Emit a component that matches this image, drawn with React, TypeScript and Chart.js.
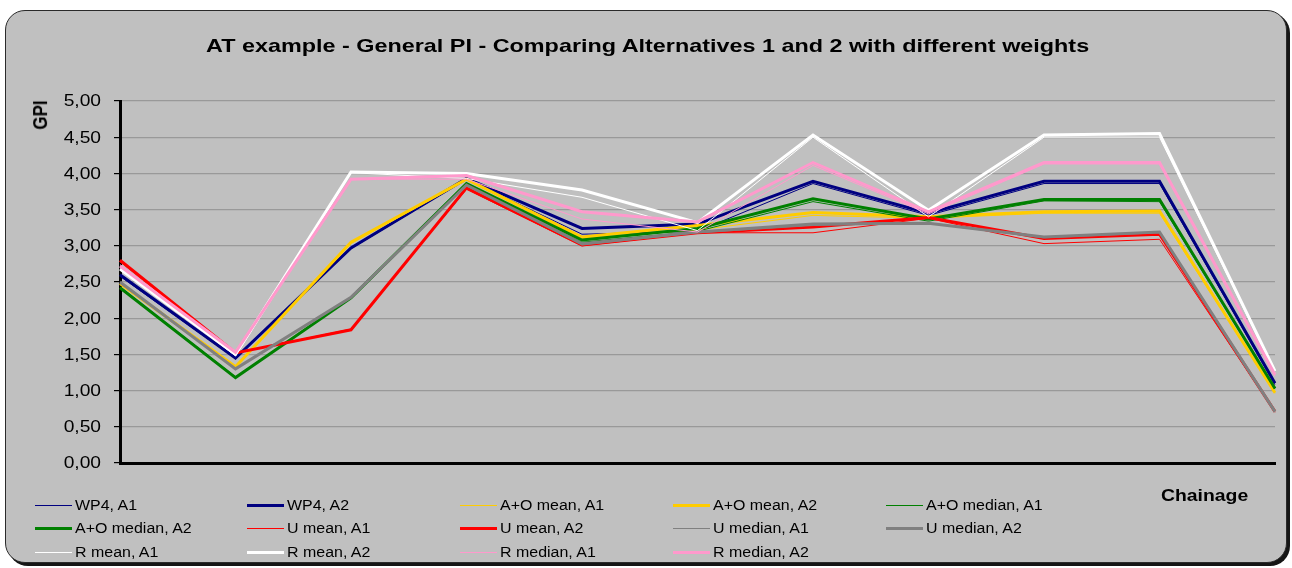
import React, { useEffect, useRef } from 'react';
import { Chart, registerables } from 'chart.js';

Chart.register(...registerables);

// ---- data ----
const chainage = ['1', '2', '3', '4', '5', '6', '7', '8', '9', '10', '11'];

const seriesNames = [
  'WP4, A1', 'WP4, A2',
  'A+O mean, A1', 'A+O mean, A2',
  'A+O median, A1', 'A+O median, A2',
  'U mean, A1', 'U mean, A2',
  'U median, A1', 'U median, A2',
  'R mean, A1', 'R mean, A2',
  'R median, A1', 'R median, A2',
];

const wp4A1 = [2.58, 1.44, 2.96, 3.92, 3.16, 3.2, 3.86, 3.42, 3.86, 3.86, 1.08];
const wp4A2 = [2.6, 1.45, 2.97, 3.93, 3.24, 3.3, 3.89, 3.45, 3.89, 3.89, 1.1];
const aoMeanA1 = [2.5, 1.34, 3.03, 3.91, 3.1, 3.22, 3.42, 3.38, 3.45, 3.45, 0.96];
const aoMeanA2 = [2.48, 1.33, 3.05, 3.92, 3.12, 3.28, 3.46, 3.4, 3.47, 3.48, 0.97];
const aoMedianA1 = [2.43, 1.19, 2.28, 3.85, 3.05, 3.2, 3.61, 3.34, 3.62, 3.61, 1.02];
const aoMedianA2 = [2.42, 1.18, 2.28, 3.86, 3.08, 3.24, 3.65, 3.37, 3.64, 3.64, 1.03];
const uMeanA1 = [2.78, 1.52, 1.85, 3.78, 3.0, 3.18, 3.18, 3.38, 3.03, 3.09, 0.7];
const uMeanA2 = [2.8, 1.52, 1.84, 3.8, 3.01, 3.18, 3.26, 3.39, 3.1, 3.16, 0.71];
const uMedianA1 = [2.48, 1.3, 2.29, 3.83, 3.01, 3.18, 3.28, 3.31, 3.11, 3.18, 0.7];
const uMedianA2 = [2.5, 1.3, 2.29, 3.84, 3.03, 3.19, 3.3, 3.31, 3.12, 3.19, 0.71];
const rMeanA1 = [2.7, 1.48, 4.01, 3.93, 3.67, 3.21, 4.5, 3.4, 4.5, 4.5, 1.25];
const rMeanA2 = [2.68, 1.5, 4.02, 4.0, 3.77, 3.32, 4.53, 3.49, 4.53, 4.55, 1.27];
const rMedianA1 = [2.74, 1.52, 3.92, 3.92, 3.37, 3.19, 4.11, 3.44, 4.13, 4.13, 1.2];
const rMedianA2 = [2.72, 1.53, 3.92, 3.97, 3.47, 3.33, 4.15, 3.47, 4.15, 4.15, 1.22];

const seriesValues = [
  wp4A1, wp4A2, aoMeanA1, aoMeanA2, aoMedianA1, aoMedianA2,
  uMeanA1, uMeanA2, uMedianA1, uMedianA2, rMeanA1, rMeanA2, rMedianA1, rMedianA2,
];

const seriesColors = [
  '#000080', '#000080',
  '#FFCC00', '#FFCC00',
  '#008000', '#008000',
  '#FF0000', '#FF0000',
  '#808080', '#808080',
  '#FFFFFF', '#FFFFFF',
  '#FF99CC', '#FF99CC',
];

const seriesWidths = [1, 3, 1, 3, 1, 3, 1, 3, 1, 3, 1, 3, 1, 3];

const titleText = 'AT example - General PI - Comparing Alternatives 1 and 2 with different weights';
const yTitle = 'GPI';
const xTitle = 'Chainage';

const FONT = "'Liberation Sans', Arial, sans-serif";

// legend grid layout
const legendCols = [35, 247, 460, 673, 886];
const legendRows = [505, 528, 552];

// draws the y tick labels slightly stretched horizontally, like the reference
const stretchedYLabels = {
  id: 'stretchedYLabels',
  afterDraw(chart: any) {
    const scale = chart.scales.y;
    const ctx = chart.ctx;
    ctx.save();
    ctx.fillStyle = '#000';
    ctx.font = `16px ${FONT}`;
    ctx.textAlign = 'right';
    ctx.textBaseline = 'middle';
    for (const t of scale.ticks) {
      const y = scale.getPixelForValue(t.value);
      const label = Number(t.value).toFixed(2).replace('.', ',');
      ctx.save();
      ctx.translate(scale.right - 19, y + 1);
      ctx.scale(1.2, 1);
      ctx.fillText(label, 0, 0);
      ctx.restore();
    }
    ctx.restore();
  },
};

export default function App() {
  const ref = useRef<HTMLCanvasElement>(null);

  useEffect(() => {
    if (!ref.current) return;
    const chart = new Chart(ref.current, {
      type: 'line',
      data: {
        labels: chainage,
        datasets: seriesValues.map((d, i) => ({
          label: seriesNames[i],
          data: d,
          borderColor: seriesColors[i],
          backgroundColor: seriesColors[i],
          borderWidth: seriesWidths[i],
          pointRadius: 0,
          pointHoverRadius: 0,
          tension: 0,
          fill: false,
          order: seriesNames.length - 1 - i,
        })),
      },
      plugins: [stretchedYLabels],
      options: {
        responsive: false,
        animation: false,
        events: [],
        layout: { padding: { left: 0, top: 101, right: 17, bottom: 105 } },
        plugins: {
          legend: { display: false },
          title: { display: false },
          tooltip: { enabled: false },
        },
        scales: {
          x: {
            type: 'category',
            offset: false,
            grid: { display: false },
            ticks: { display: false },
            border: { display: true, color: '#000', width: 3 },
            afterFit: (s: any) => {
              s.height = 0;
            },
          },
          y: {
            min: 0,
            max: 5,
            ticks: {
              stepSize: 0.5,
              display: false,
            },
            grid: {
              color: (ctx: any) => (ctx.tick && ctx.tick.value === 0 ? 'rgba(0,0,0,0)' : '#999999'),
              lineWidth: 1.2,
              tickColor: '#000',
              tickLength: 6,
            },
            border: { display: true, color: '#000', width: 3 },
            afterFit: (s: any) => {
              s.width = 120;
            },
          },
        },
      },
    });
    return () => chart.destroy();
  }, []);

  return (
    <div
      style={{
        position: 'absolute',
        left: 0,
        top: 0,
        width: 1292,
        height: 568,
        overflow: 'hidden',
        background: '#fff',
        fontFamily: FONT,
      }}
    >
      <div
        style={{
          position: 'absolute',
          left: 5,
          top: 10,
          width: 1282,
          height: 553,
          boxSizing: 'border-box',
          border: '1.5px solid #2a2a2a',
          borderRadius: 20,
          background: '#C0C0C0',
          boxShadow: '3px 3px 0 #151515',
        }}
      />
      <canvas
        ref={ref}
        width={1292}
        height={568}
        style={{ position: 'absolute', left: 0, top: 0, width: 1292, height: 568 }}
      />
      <div
        style={{
          position: 'absolute',
          left: 0,
          top: 33,
          width: 1295,
          textAlign: 'center',
          fontWeight: 'bold',
          fontSize: 19,
          lineHeight: '26px',
          color: '#000',
          transform: 'scaleX(1.23)',
          transformOrigin: '647px 0',
          whiteSpace: 'nowrap',
        }}
      >
        {titleText}
      </div>
      <div
        style={{
          position: 'absolute',
          left: 41,
          top: 115,
          fontWeight: 'bold',
          fontSize: 17,
          lineHeight: '17px',
          color: '#000',
          transform: 'translate(-50%, -50%) rotate(-90deg) scaleY(1.15)',
          whiteSpace: 'nowrap',
        }}
      >
        {yTitle}
      </div>
      <div
        style={{
          position: 'absolute',
          left: 1161,
          top: 486,
          fontWeight: 'bold',
          fontSize: 17,
          lineHeight: '20px',
          color: '#000',
          transform: 'scaleX(1.14)',
          transformOrigin: '0 0',
          whiteSpace: 'nowrap',
        }}
      >
        {xTitle}
      </div>
      {seriesNames.map((name, i) => {
        const col = legendCols[i % legendCols.length];
        const row = legendRows[Math.floor(i / legendCols.length)];
        const w = seriesWidths[i];
        return (
          <div key={name}>
            <div
              style={{
                position: 'absolute',
                left: col,
                top: Math.round(row - w / 2),
                width: 37,
                height: w,
                background: seriesColors[i],
              }}
            />
            <div
              style={{
                position: 'absolute',
                left: col + 40,
                top: row - 9,
                fontSize: 14,
                lineHeight: '18px',
                color: '#000',
                transform: 'scaleX(1.14)',
                transformOrigin: '0 0',
                whiteSpace: 'nowrap',
              }}
            >
              {name}
            </div>
          </div>
        );
      })}
    </div>
  );
}
